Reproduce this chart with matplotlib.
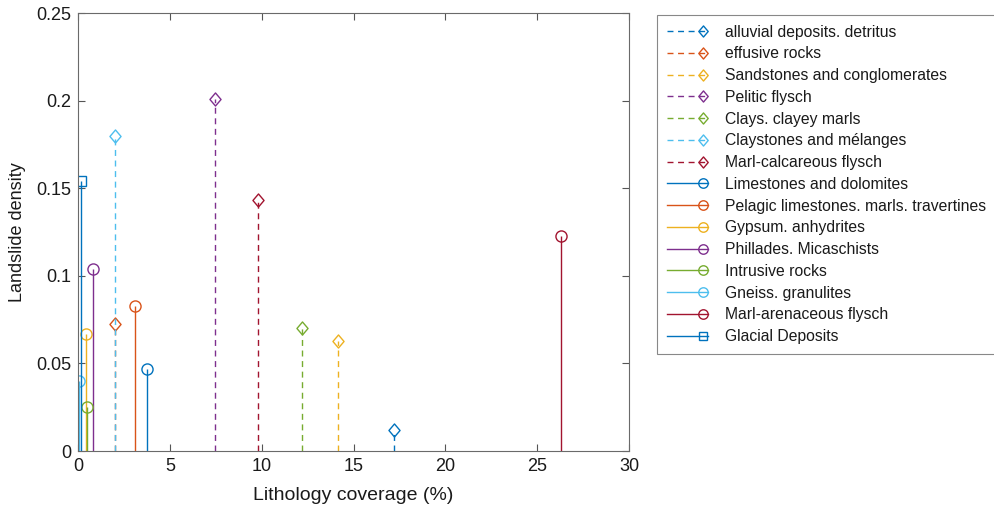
import matplotlib
matplotlib.use("Agg")
import matplotlib.pyplot as plt
from matplotlib.legend_handler import HandlerLine2D
from matplotlib.lines import Line2D
from matplotlib.path import Path

plt.rcParams['font.family'] = ['Liberation Sans', 'DejaVu Sans']

names = ["alluvial deposits. detritus", "effusive rocks", "Sandstones and conglomerates",
         "Pelitic flysch", "Clays. clayey marls", "Claystones and mélanges",
         "Marl-calcareous flysch", "Limestones and dolomites",
         "Pelagic limestones. marls. travertines", "Gypsum. anhydrites",
         "Phillades. Micaschists", "Intrusive rocks", "Gneiss. granulites",
         "Marl-arenaceous flysch", "Glacial Deposits"]
coverage = [17.2, 2.0, 14.15, 7.46, 12.2, 2.0, 9.8, 3.76, 3.1, 0.42, 0.82, 0.47, 0.05, 26.3, 0.15]
density = [0.012, 0.0725, 0.063, 0.201, 0.070, 0.180, 0.143, 0.047, 0.083, 0.067, 0.104, 0.025, 0.040, 0.123, 0.154]
kinds = ["diamond"] * 7 + ["circle"] * 7 + ["square"]

colors = [(0, 0.447, 0.741), (0.85, 0.325, 0.098), (0.929, 0.694, 0.125),
          (0.494, 0.184, 0.556), (0.466, 0.674, 0.188), (0.301, 0.745, 0.933),
          (0.635, 0.078, 0.184)]

diamond = Path([(0, -1), (0.85, 0), (0, 1), (-0.85, 0), (0, -1)],
               [Path.MOVETO, Path.LINETO, Path.LINETO, Path.LINETO, Path.CLOSEPOLY])
dash_ls = (0, (4.3, 3.3))
LW = 1.0
style = {
    "diamond": dict(marker=diamond, ms=9.4, ls=dash_ls),
    "circle": dict(marker="o", ms=8.0, ls="-"),
    "square": dict(marker="s", ms=6.5, ls="-"),
}


class EndMarkerHandler(HandlerLine2D):
    def create_artists(self, legend, orig_handle, xdescent, ydescent, width, height, fontsize, trans):
        y = height / 2 - ydescent
        line = Line2D([-xdescent, width - xdescent], [y, y])
        self.update_prop(line, orig_handle, legend)
        line.set_marker("None")
        line.set_transform(trans)
        mk = Line2D([width - xdescent - 4], [y])
        self.update_prop(mk, orig_handle, legend)
        mk.set_linestyle("None")
        mk.set_markersize(orig_handle.get_markersize() * 0.85)
        mk.set_transform(trans)
        return [line, mk]


fig = plt.figure(figsize=(9.94, 5.07), dpi=100)
ax = fig.add_axes([78 / 994, 56 / 507, 551 / 994, 438 / 507])

handles = []
for i, (n, x, y, k) in enumerate(zip(names, coverage, density, kinds)):
    c = colors[i % 7]
    st = style[k]
    ax.vlines(x, 0, y, colors=[c], linestyles=[st["ls"]], linewidth=LW)
    ax.plot([x], [y], marker=st["marker"], markersize=st["ms"], markerfacecolor="none",
            markeredgecolor=c, markeredgewidth=1.0, linestyle="none")
    handles.append(Line2D([], [], color=c, linestyle=st["ls"], linewidth=LW,
                          marker=st["marker"], markersize=st["ms"], markerfacecolor="none",
                          markeredgecolor=c, markeredgewidth=1.0, label=n))

ax.set_xlim(0, 30)
ax.set_ylim(0, 0.25)
ax.set_xticks([0, 5, 10, 15, 20, 25, 30])
ax.set_yticks([0, 0.05, 0.1, 0.15, 0.2, 0.25])
ax.set_yticklabels(["0", "0.05", "0.1", "0.15", "0.2", "0.25"])
ax.tick_params(direction="in", top=True, right=True, labelsize=13, length=5,
               color="#555555", labelcolor="#1a1a1a", width=0.8, pad=5)
for s in ax.spines.values():
    s.set_color("#6a6a6a")
    s.set_linewidth(0.8)
ax.set_xlabel("Lithology coverage (%)", fontsize=14, labelpad=9, color="#1a1a1a")
ax.set_ylabel("Landslide density", fontsize=13, labelpad=7, color="#1a1a1a")

leg = fig.legend(handles=handles, loc="upper left", bbox_to_anchor=(657 / 994, 1 - 15 / 507),
                 fontsize=11.3, frameon=True, fancybox=False, edgecolor="#6a6a6a",
                 handlelength=2.65, handletextpad=1.05, labelspacing=0.43,
                 borderpad=0.62, borderaxespad=0, handler_map={Line2D: EndMarkerHandler()})
leg.get_frame().set_linewidth(0.8)
for t in leg.get_texts():
    t.set_color("#1a1a1a")

fig.savefig("out.png", dpi=100)
